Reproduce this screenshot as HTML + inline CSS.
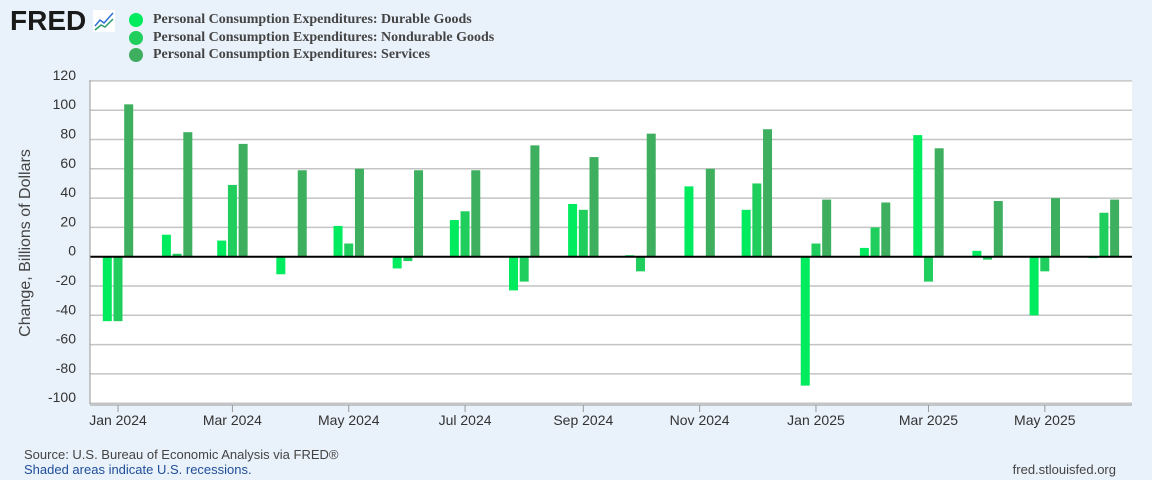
<!DOCTYPE html>
<html><head><meta charset="utf-8"><style>
body{margin:0;width:1152px;height:480px;background:#e9f1fa;font-family:"Liberation Sans",sans-serif;overflow:hidden;position:relative}
.lg{position:absolute;left:153px;font:bold 14px "Liberation Serif",serif;color:#444}
.dot{position:absolute;left:-24px;top:1px;width:14px;height:14px;border-radius:50%}
</style></head><body>
<div style="position:absolute;left:10px;top:5px;font:900 28px 'Liberation Sans',sans-serif;color:#1a1a1a;letter-spacing:0px">FRED</div>
<svg style="position:absolute;left:93px;top:10px" width="22" height="22"><rect width="22" height="22" fill="#fff"/><polyline points="2,16 7,10 11,13 20,3" fill="none" stroke="#2c6fd6" stroke-width="1.5"/><polyline points="2,20 8,15 12,17 20,9" fill="none" stroke="#2a9d6c" stroke-width="1.5"/></svg>
<div class="lg" style="top:12px"><span class="dot" style="background:#00eb5e"></span>Personal Consumption Expenditures: Durable Goods</div>
<div class="lg" style="top:30px"><span class="dot" style="background:#1fce5c"></span>Personal Consumption Expenditures: Nondurable Goods</div>
<div class="lg" style="top:47px"><span class="dot" style="background:#3daf5e"></span>Personal Consumption Expenditures: Services</div>
<svg id="c" width="1152" height="480" style="position:absolute;left:0;top:0"></svg>
<div style="position:absolute;left:24px;top:447px;font-size:13px;color:#444">Source: U.S. Bureau of Economic Analysis via FRED®</div>
<div style="position:absolute;left:24px;top:462px;font-size:13px;color:#1f4e99">Shaded areas indicate U.S. recessions.</div>
<div style="position:absolute;right:36px;top:462px;font-size:13px;color:#444">fred.stlouisfed.org</div>
<script>
const months=["2024-01","2024-02","2024-03","2024-04","2024-05","2024-06","2024-07","2024-08","2024-09","2024-10","2024-11","2024-12","2025-01","2025-02","2025-03","2025-04","2025-05","2025-06"];
const durable=[-44,15,11,-12,21,-8,25,-23,36,1,48,32,-88,6,83,4,-40,-1];
const nondurable=[-44,2,49,0,9,-3,31,-17,32,-10,0,50,9,20,-17,-2,-10,30];
const services=[104,85,77,59,60,59,59,76,68,84,60,87,39,37,74,38,40,39];
const yTicks=[-100,-80,-60,-40,-20,0,20,40,60,80,100,120];
const xTickLabels=["Jan 2024","Mar 2024","May 2024","Jul 2024","Sep 2024","Nov 2024","Jan 2025","Mar 2025","May 2025"];
const xTickDates=["2024-01","2024-03","2024-05","2024-07","2024-09","2024-11","2025-01","2025-03","2025-05"];
const L=90,R=1132,T=80,B=404;
const y=v=>256.7-v*(29.3/20);
const d0=Date.UTC(2024,0,1);
const x=m=>{const [a,b]=m.split("-").map(Number);return 118+(Date.UTC(a,b-1,1)-d0)/864e5*1.907;};
const s=document.getElementById('c');const NS="http://www.w3.org/2000/svg";
function el(t,a,txt){const e=document.createElementNS(NS,t);for(const k in a)e.setAttribute(k,a[k]);if(txt!=null)e.textContent=txt;s.appendChild(e);return e;}
const bg=el('rect',{x:L,y:T,width:R-L,height:B-T,fill:'#fff'});


yTicks.forEach(v=>{
 const g=el('line',{x1:L,x2:R,y1:y(v),y2:y(v),stroke:'#c4c4c4','stroke-width':1.5});
 
 
 const t=el('text',{x:76,y:y(v)-1,'text-anchor':'end','font-size':14,fill:'#333','font-family':'Liberation Sans'},v);
 
 
});
const series=[[durable,'#00eb5e',-10.7,'durable'],[nondurable,'#1fce5c',0,'nondurable'],[services,'#3daf5e',10.7,'services']];
series.forEach(([arr,c,off,n])=>arr.forEach((v,i)=>{
 const cx=x(months[i])+off;
 const r=el('rect',{x:cx-4.5,width:9,y:Math.min(y(v),y(0)),height:Math.abs(y(v)-y(0)),fill:c});
 
 
}));
const z=el('line',{x1:L,x2:R,y1:y(0),y2:y(0),stroke:'#000','stroke-width':2});


const ax=el('line',{x1:L,x2:L,y1:T,y2:B,stroke:'#999','stroke-width':1});


const bx=el('line',{x1:L,x2:R,y1:B+1,y2:B+1,stroke:'#999','stroke-width':1});


xTickDates.forEach((m,i)=>{
 const tk=el('line',{x1:x(m),x2:x(m),y1:B+1,y2:B+8,stroke:'#999'});
 
 
 const t=el('text',{x:x(m),y:425,'text-anchor':'middle','font-size':14,fill:'#333','font-family':'Liberation Sans'},xTickLabels[i]);
 
 
});
const yt=el('text',{x:30,y:243,transform:'rotate(-90 30 243)','text-anchor':'middle','font-size':16,fill:'#444','font-family':'Liberation Sans'},'Change, Billions of Dollars');


</script>
</body></html>
